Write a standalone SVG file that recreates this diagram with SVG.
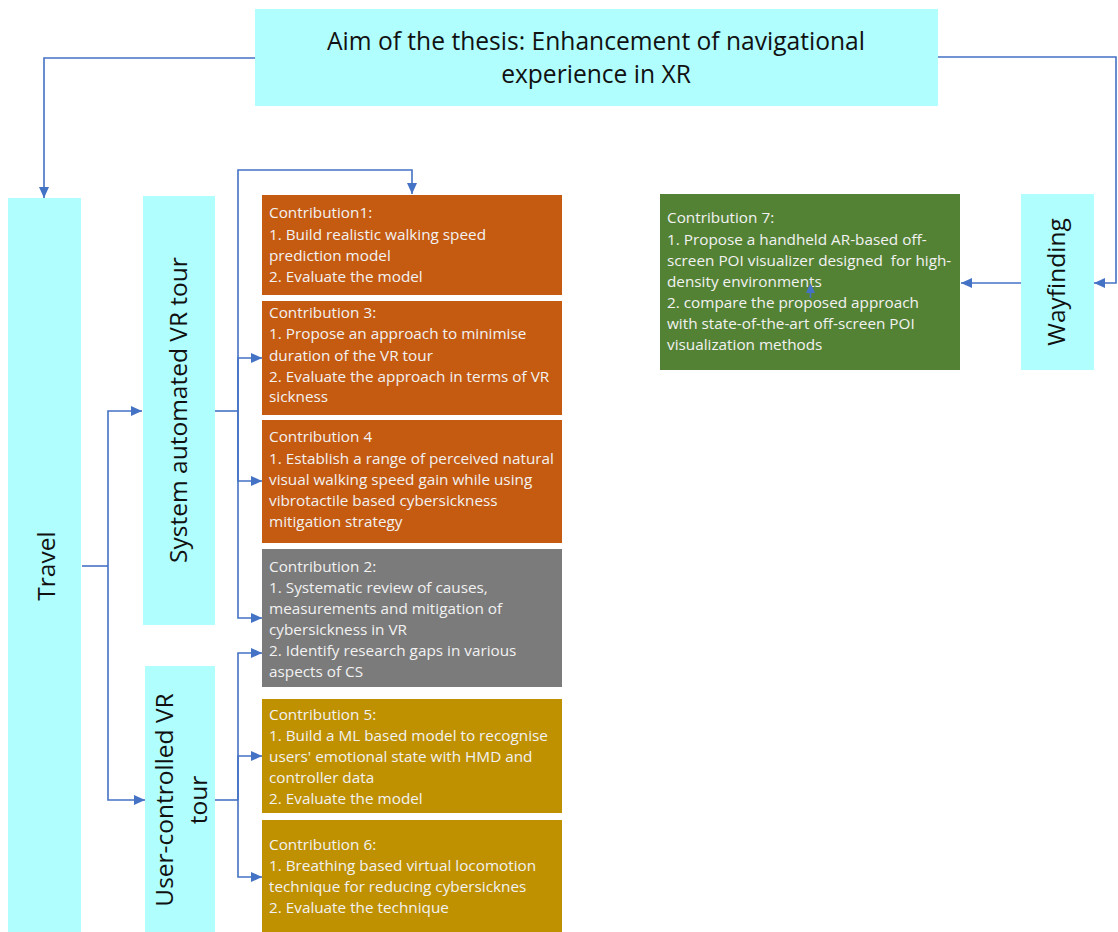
<svg xmlns="http://www.w3.org/2000/svg" width="1118" height="932" viewBox="0 0 1118 932">
<style>
.cy{fill:#b0fefe}
.or{fill:#c55a11}
.gr{fill:#7b7b7b}
.gd{fill:#bf9000}
.gn{fill:#548235}
.t{font-family:"Open Sans","Liberation Sans",Arial,sans-serif;font-size:15.3px;fill:#f2f2f2}
.big{font-family:"Open Sans","Liberation Sans",Arial,sans-serif;font-size:24.5px;fill:#111}
.title{font-family:"Open Sans","Liberation Sans",Arial,sans-serif;font-size:24.6px;fill:#111;text-anchor:middle}
.c{fill:none;stroke:#4472c4;stroke-width:1.6}
</style>
<defs>
<marker id="ah" markerWidth="11" markerHeight="10" refX="11" refY="5" orient="auto" markerUnits="userSpaceOnUse">
<path d="M0,0 L11,5 L0,10 z" fill="#4472c4"/>
</marker>
</defs>
<rect width="1118" height="932" fill="#ffffff"/>

<g id="aim">
<rect class="cy" x="255" y="9" width="683" height="97"/>
<text class="title" x="596" y="50">Aim of the thesis: Enhancement of navigational</text>
<text class="title" x="596" y="83">experience in XR</text>
</g>

<g id="travel">
<rect class="cy" x="8" y="198" width="73" height="740"/>
<text class="big" text-anchor="middle" transform="translate(55,566) rotate(-90)">Travel</text>
</g>

<g id="system-tour">
<rect class="cy" x="143" y="196" width="72" height="429"/>
<text class="big" text-anchor="middle" font-size="25" transform="translate(187,410) rotate(-90)">System automated VR tour</text>
</g>

<g id="user-tour">
<rect class="cy" x="145" y="666" width="70" height="272"/>
<text class="big" text-anchor="middle" transform="translate(173,800) rotate(-90)">User-controlled VR</text>
<text class="big" text-anchor="middle" transform="translate(207,800) rotate(-90)">tour</text>
</g>

<g id="wayfinding">
<rect class="cy" x="1021" y="194" width="73" height="176"/>
<text class="big" text-anchor="middle" transform="translate(1065,282) rotate(-90)">Wayfinding</text>
</g>

<g id="c1">
<rect class="or" x="262" y="195" width="300" height="100"/>
<text class="t" x="269" y="218">Contribution1:</text>
<text class="t" x="269" y="240">1. Build realistic walking speed</text>
<text class="t" x="269" y="261">prediction model</text>
<text class="t" x="269" y="282">2. Evaluate the model</text>
</g>

<g id="c3">
<rect class="or" x="262" y="301" width="300" height="114"/>
<text class="t" x="269" y="318">Contribution 3:</text>
<text class="t" x="269" y="339">1. Propose an approach to minimise</text>
<text class="t" x="269" y="361">duration of the VR tour</text>
<text class="t" x="269" y="382">2. Evaluate the approach in terms of VR</text>
<text class="t" x="269" y="402">sickness</text>
</g>

<g id="c4">
<rect class="or" x="262" y="420" width="300" height="123"/>
<text class="t" x="269" y="442">Contribution 4</text>
<text class="t" x="269" y="464">1. Establish a range of perceived natural</text>
<text class="t" x="269" y="485">visual walking speed gain while using</text>
<text class="t" x="269" y="506">vibrotactile based cybersickness</text>
<text class="t" x="269" y="527">mitigation strategy</text>
</g>

<g id="c2">
<rect class="gr" x="262" y="549" width="300" height="138"/>
<text class="t" x="269" y="572">Contribution 2:</text>
<text class="t" x="269" y="593">1. Systematic review of causes,</text>
<text class="t" x="269" y="614">measurements and mitigation of</text>
<text class="t" x="269" y="635">cybersickness in VR</text>
<text class="t" x="269" y="656">2. Identify research gaps in various</text>
<text class="t" x="269" y="677">aspects of CS</text>
</g>

<g id="c5">
<rect class="gd" x="262" y="699" width="300" height="114"/>
<text class="t" x="269" y="720">Contribution 5:</text>
<text class="t" x="269" y="741">1. Build a ML based model to recognise</text>
<text class="t" x="269" y="762">users' emotional state with HMD and</text>
<text class="t" x="269" y="783">controller data</text>
<text class="t" x="269" y="804">2. Evaluate the model</text>
</g>

<g id="c6">
<rect class="gd" x="262" y="820" width="300" height="118"/>
<text class="t" x="269" y="850">Contribution 6:</text>
<text class="t" x="269" y="871">1. Breathing based virtual locomotion</text>
<text class="t" x="269" y="892">technique for reducing cybersicknes</text>
<text class="t" x="269" y="913">2. Evaluate the technique</text>
</g>

<g id="c7">
<rect class="gn" x="660" y="194" width="300" height="176"/>
<text class="t" x="667" y="223">Contribution 7:</text>
<text class="t" x="667" y="245">1. Propose a handheld AR-based off-</text>
<text class="t" x="667" y="266" xml:space="preserve">screen POI visualizer designed  for high-</text>
<text class="t" x="667" y="287">density environments</text>
<text class="t" x="667" y="308">2. compare the proposed approach</text>
<text class="t" x="667" y="329">with state-of-the-art off-screen POI</text>
<text class="t" x="667" y="350">visualization methods</text>
</g>

<g id="connectors">
<path class="c" d="M255,58 H44 V198" marker-end="url(#ah)"/>
<path class="c" d="M938,57 H1116 V283 H1094" marker-end="url(#ah)"/>
<path class="c" d="M1021,283 H961" marker-end="url(#ah)"/>
<path class="c" d="M82,566 H108"/>
<path class="c" d="M108,566 V411 H142" marker-end="url(#ah)"/>
<path class="c" d="M108,566 V800 H145" marker-end="url(#ah)"/>
<path class="c" d="M215,411 H238"/>
<path class="c" d="M238,411 V170 H412 V194" marker-end="url(#ah)"/>
<path class="c" d="M238,411 V358 H262" marker-end="url(#ah)"/>
<path class="c" d="M238,411 V481 H262" marker-end="url(#ah)"/>
<path class="c" d="M238,411 V618 H262" marker-end="url(#ah)"/>
<path class="c" d="M215,800 H238"/>
<path class="c" d="M238,800 V653 H262" marker-end="url(#ah)"/>
<path class="c" d="M238,800 V756 H262" marker-end="url(#ah)"/>
<path class="c" d="M238,800 V877 H262" marker-end="url(#ah)"/>
<path d="M810.5,283 L815,293 L806,293 z" fill="#4472c4"/>
<path class="c" d="M810.5,292 V298"/>
</g>
</svg>
